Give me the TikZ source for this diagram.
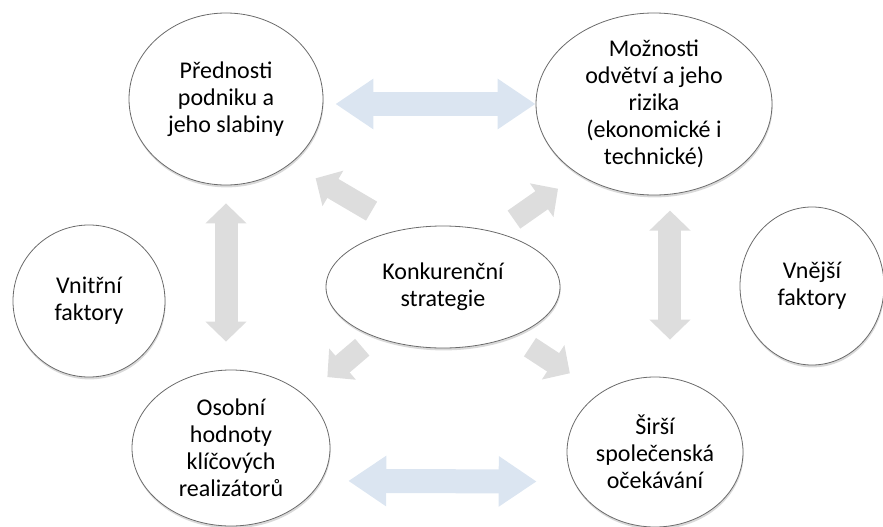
\documentclass[tikz,border=0pt]{standalone}
\usepackage{fontspec}
\setmainfont{Carlito}
\usetikzlibrary{arrows.meta,shadows,shapes.geometric}
\definecolor{rim}{HTML}{6B6B6B}
\definecolor{haze}{HTML}{DBE5F1}
\definecolor{fog}{HTML}{DDDDDD}

\begin{document}
\begin{tikzpicture}[
  x=1pt,y=-1pt,
  every node/.style={font=\fontsize{24}{27}\selectfont,align=center},
  blob/.style={ellipse,draw=rim,line width=0.8pt,fill=white,inner sep=-12pt,
    drop shadow={shadow xshift=0.6pt,shadow yshift=-2.4pt,opacity=0.3}},
  twoway/.style={{Triangle[width=48pt,length=38pt]}-{Triangle[width=48pt,length=38pt]},line width=24pt,color=haze},
  sideway/.style={{Triangle[width=40pt,length=20pt]}-{Triangle[width=40pt,length=20pt]},line width=23pt,color=fog},
  outward/.style={-{Triangle[width=40pt,length=20pt]},line width=22pt,color=fog}
]
\useasboundingbox (0,0) rectangle (883,527);
\node[blob,minimum width=194pt,minimum height=172pt] (strengths) at (226,99) {Přednosti\\podniku a\\jeho slabiny};
\node[blob,minimum width=236pt,minimum height=182pt] (industry) at (654,104) {Možnosti\\odvětví a jeho\\rizika\\(ekonomické i\\technické)};
\node[blob,minimum width=152pt,minimum height=152pt] (inner) at (89,301) {Vnitřní\\faktory};
\node[blob,minimum width=234pt,minimum height=122pt] (strategy) at (443,287) {Konkurenční\\strategie};
\node[blob,minimum width=144pt,minimum height=158pt] (outer) at (812,286) {Vnější\\faktory};
\node[blob,minimum width=198pt,minimum height=156pt] (values) at (231,448) {Osobní\\hodnoty\\klíčových\\realizátorů};
\node[blob,minimum width=176pt,minimum height=150pt] (society) at (655,452) {Širší\\společenská\\očekávání};
\draw[twoway,shorten <=12pt] (strengths.east |- industry.west) -- (industry.west);
\draw[twoway,shorten <=27pt,shorten >=37pt] (values.-20) -- (society.200);
\draw[sideway,shorten <=18pt,shorten >=28pt] (strengths.south) -- (strengths.south |- values.north);
\draw[sideway,shorten <=16pt,shorten >=37pt] (industry.-80) -- (industry.-80 |- society.north);
\draw[outward,shorten <=36pt,shorten >=29pt] (strategy.125) -- (strengths.-45);
\draw[outward,shorten <=22pt,shorten >=25pt] (strategy.46) -- (industry.-137);
\draw[outward,shorten <=16pt,shorten >=29pt] (strategy.-144) -- (values.35);
\draw[outward,shorten <=20pt,shorten >=36pt] (strategy.-35) -- (society.133);
\end{tikzpicture}
\end{document}
